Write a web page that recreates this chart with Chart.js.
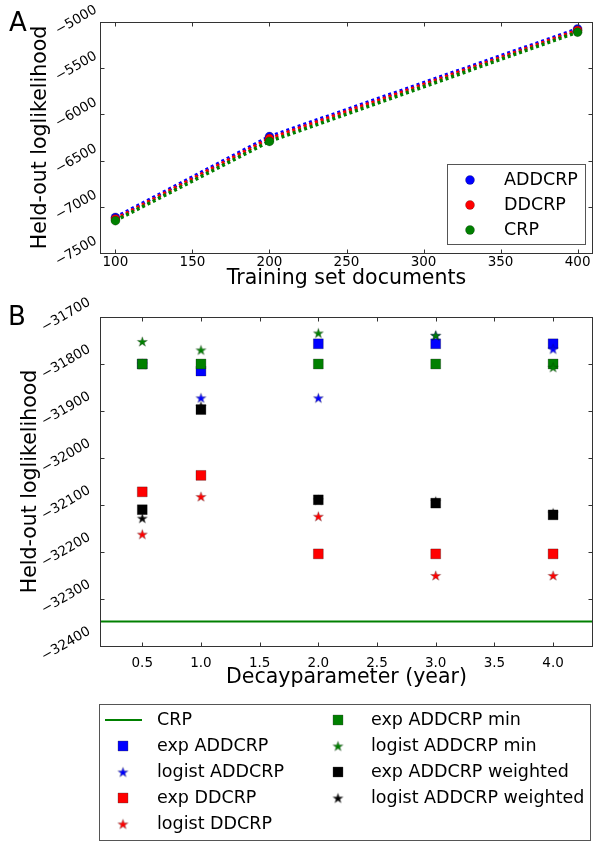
<!DOCTYPE html>
<html>
<head>
<meta charset="utf-8">
<script src="https://cdn.jsdelivr.net/npm/chart.js@4.4.0/dist/chart.umd.min.js"></script>
<style>
  html, body { margin: 0; padding: 0; background: #fff; }
  #wrap { position: relative; width: 594px; height: 841px; overflow: hidden; font-family: "DejaVu Sans", sans-serif; }
  .panel { position: absolute; left: 0; }
  .tag { position: absolute; font-size: 26px; line-height: 1; color: #000; }
</style>
</head>
<body>
<div id="wrap">
  <!-- canvases are 20px wider than the page; the spare strip on the right absorbs Chart.js label padding -->
  <div class="panel" style="top:0"><canvas id="chartA" width="614" height="290"></canvas></div>
  <div class="panel" style="top:290px"><canvas id="chartB" width="614" height="551"></canvas></div>
  <div class="tag" style="left:9px;top:9px">A</div>
  <div class="tag" style="left:8px;top:303px">B</div>
</div>
<script>
// ---- panel A data ----
const docCounts = [100, 200, 400];
const addcrpTop = [-7115, -6240, -5075];
const ddcrpTop = [-7132, -6262, -5092];
const crpTop = [-7150, -6292, -5110];
const topXTicks = [100, 150, 200, 250, 300, 350, 400];
const topYTicks = [-7500, -7000, -6500, -6000, -5500, -5000];

// ---- panel B data ----
const decay = [0.5, 1.0, 2.0, 3.0, 4.0];
const crpBaseline = -32348;
const expAddcrp = [-31800, -31815, -31757, -31757, -31757];
const logistAddcrp = [-31800, -31872, -31872, -31739, -31768];
const expDdcrp = [-32072, -32037, -32204, -32204, -32204];
const logistDdcrp = [-32162, -32082, -32124, -32250, -32250];
const expAddcrpMin = [-31800, -31800, -31800, -31800, -31800];
const logistAddcrpMin = [-31752, -31770, -31734, -31739, -31807];
const expAddcrpWeighted = [-32110, -31897, -32089, -32096, -32121];
const logistAddcrpWeighted = [-32128, -31890, -32089, -32092, -32117];
const bottomXTicks = [0.5, 1.0, 1.5, 2.0, 2.5, 3.0, 3.5, 4.0];
const bottomYTicks = [-32400, -32300, -32200, -32100, -32000, -31900, -31800, -31700];
const X_MIN = 0.14, X_MAX = 4.34;

const FONT = '"DejaVu Sans", sans-serif';
const tickFont = { family: FONT, size: 13.5 };
const titleFont = { family: FONT, size: 20.5, lineHeight: 1 };
const EDGE = 'rgba(0,0,0,0.45)';
const RIGHT_PAD = 21; // 20px spare strip + 1px

const minus = v => String(v).replace('-', '\u2212');
const pts = (xs, ys) => xs.map((x, i) => ({ x: x, y: ys[i] }));

const fixH = h => s => { s.height = h; };
const fixW = w => s => { s.width = w; s.paddingTop = 0; s.paddingBottom = 0; };

// filled five-point star, like matplotlib's '*'
function starImage(color, r) {
    const s = Math.ceil(r * 2 + 2);
    const c = document.createElement('canvas');
    c.width = s; c.height = s;
    const g = c.getContext('2d');
    g.translate(s / 2, s / 2 + r * 0.1);
    g.beginPath();
    for (let i = 0; i < 10; i++) {
        const rad = i % 2 ? r * 0.382 : r;
        const a = -Math.PI / 2 + i * Math.PI / 5;
        g.lineTo(Math.cos(a) * rad, Math.sin(a) * rad);
    }
    g.closePath();
    g.fillStyle = color;
    g.fill();
    g.lineWidth = 0.5;
    g.strokeStyle = EDGE;
    g.stroke();
    return c;
}

// axes box + inward tick marks on all four sides
const frame = {
    id: 'frame',
    afterDraw(chart) {
        const { ctx, chartArea: a } = chart;
        const L = Math.round(a.left) + 0.5, R = Math.round(a.right) - 0.5;
        const T = Math.round(a.top) + 0.5, B = Math.round(a.bottom) + 0.5;
        ctx.save();
        ctx.strokeStyle = '#333';
        ctx.lineWidth = 1;
        ctx.strokeRect(L, T, R - L, B - T);
        ctx.beginPath();
        const xs = chart.scales.x, ys = chart.scales.y;
        xs.ticks.forEach((t, i) => {
            const p = Math.round(xs.getPixelForTick(i)) + 0.5;
            ctx.moveTo(p, B); ctx.lineTo(p, B - 4);
            ctx.moveTo(p, T); ctx.lineTo(p, T + 4);
        });
        ys.ticks.forEach((t, i) => {
            const p = Math.round(ys.getPixelForTick(i)) + 0.5;
            ctx.moveTo(L, p); ctx.lineTo(L + 4, p);
            ctx.moveTo(R, p); ctx.lineTo(R - 4, p);
        });
        ctx.stroke();
        ctx.restore();
    }
};

// matplotlib-style boxed legend, filled column by column
const boxLegend = {
    id: 'boxLegend',
    afterDraw(chart, args, opts) {
        const ctx = chart.ctx;
        const [bx, by, bw, bh] = opts.box;
        ctx.save();
        ctx.fillStyle = '#fff';
        ctx.fillRect(bx, by, bw, bh);
        ctx.strokeStyle = '#555';
        ctx.lineWidth = 1;
        ctx.strokeRect(bx + 0.5, by + 0.5, bw, bh);
        ctx.font = opts.font;
        ctx.textBaseline = 'middle';
        ctx.textAlign = 'left';
        chart.data.datasets.forEach((ds, i) => {
            const col = Math.floor(i / opts.rows), row = i % opts.rows;
            const mx = opts.markX[col], tx = opts.textX[col];
            const y = opts.rowY0 + row * opts.rowStep;
            if (ds.legendLine) {
                ctx.strokeStyle = ds.borderColor;
                ctx.lineWidth = ds.borderWidth;
                ctx.beginPath();
                ctx.moveTo(mx - 18, y); ctx.lineTo(mx + 19, y);
                ctx.stroke();
            } else {
                ctx.fillStyle = ds.pointBackgroundColor || ds.backgroundColor;
                ctx.strokeStyle = ds.pointBorderColor || ds.borderColor;
                ctx.lineWidth = ds.pointBorderWidth !== undefined ? ds.pointBorderWidth : ds.borderWidth;
                Chart.helpers.drawPoint(ctx, {
                    radius: ds.pointRadius, pointStyle: ds.pointStyle, rotation: 0,
                    borderWidth: ctx.lineWidth
                }, mx, y);
            }
            ctx.fillStyle = '#000';
            ctx.fillText(ds.label, tx, y);
        });
        ctx.restore();
    }
};

// ---------------- Panel A ----------------
function topLine(label, color, ys, i) {
    return {
        label: label,
        data: pts(docCounts, ys),
        borderColor: color,
        backgroundColor: color,
        borderWidth: 3.5,
        borderDash: [3, 3],
        pointRadius: 4.5,
        pointStyle: 'circle',
        pointBackgroundColor: color,
        pointBorderColor: EDGE,
        pointBorderWidth: 0.5,
        order: -i
    };
}

new Chart(document.getElementById('chartA'), {
    type: 'line',
    data: {
        datasets: [
            topLine('ADDCRP', '#0000ff', addcrpTop, 0),
            topLine('DDCRP', '#ff0000', ddcrpTop, 1),
            topLine('CRP', '#008000', crpTop, 2)
        ]
    },
    options: {
        responsive: false,
        animation: false,
        events: [],
        layout: { padding: { top: 22, right: RIGHT_PAD, bottom: 0, left: 0 } },
        scales: {
            x: {
                type: 'linear', min: 90, max: 410,
                afterBuildTicks: s => { s.ticks = topXTicks.map(v => ({ value: v })); },
                afterFit: fixH(37),
                grid: { display: false, drawTicks: false },
                border: { display: false },
                ticks: { font: tickFont, color: '#000', padding: 1, maxRotation: 0, autoSkip: false },
                title: { display: true, text: 'Training set documents', font: titleFont, color: '#000', padding: { top: 0, bottom: 1 } }
            },
            y: {
                type: 'linear', min: -7500, max: -5000,
                afterBuildTicks: s => { s.ticks = topYTicks.map(v => ({ value: v })); },
                afterFit: fixW(100),
                grid: { display: false, drawTicks: false },
                border: { display: false },
                ticks: { font: tickFont, color: '#000', padding: 4, minRotation: 30, maxRotation: 30, labelOffset: -13, autoSkip: false, callback: v => minus(v) },
                title: { display: true, text: 'Held-out loglikelihood', font: titleFont, color: '#000', padding: { top: 30, bottom: 0 } }
            }
        },
        plugins: {
            legend: { display: false },
            tooltip: { enabled: false },
            boxLegend: {
                box: [447, 164, 138, 80], rows: 3, markX: [470], textX: [504],
                rowY0: 180, rowStep: 25, font: '17.5px ' + FONT
            }
        }
    },
    plugins: [frame, boxLegend]
});

// ---------------- Panel B ----------------
function marks(label, color, ys, kind, i) {
    const star = kind === 'star';
    return {
        label: label,
        data: pts(decay, ys),
        backgroundColor: color,
        borderColor: EDGE,
        borderWidth: 0.6,
        pointStyle: star ? starImage(color, 5.3) : 'rect',
        pointRadius: star ? 5 : 7,
        showLine: false,
        order: -i
    };
}

new Chart(document.getElementById('chartB'), {
    type: 'scatter',
    data: {
        datasets: [
            {
                label: 'CRP',
                data: [{ x: X_MIN, y: crpBaseline }, { x: X_MAX, y: crpBaseline }],
                showLine: true,
                legendLine: true,
                borderColor: '#008000',
                backgroundColor: '#008000',
                borderWidth: 2,
                pointRadius: 0,
                order: 0
            },
            marks('exp ADDCRP', '#0000ff', expAddcrp, 'rect', 1),
            marks('logist ADDCRP', '#0000ff', logistAddcrp, 'star', 2),
            marks('exp DDCRP', '#ff0000', expDdcrp, 'rect', 3),
            marks('logist DDCRP', '#ff0000', logistDdcrp, 'star', 4),
            marks('exp ADDCRP min', '#008000', expAddcrpMin, 'rect', 5),
            marks('logist ADDCRP min', '#008000', logistAddcrpMin, 'star', 6),
            marks('exp ADDCRP weighted', '#000000', expAddcrpWeighted, 'rect', 7),
            marks('logist ADDCRP weighted', '#000000', logistAddcrpWeighted, 'star', 8)
        ]
    },
    options: {
        responsive: false,
        animation: false,
        events: [],
        layout: { padding: { top: 27, right: RIGHT_PAD, bottom: 151, left: 0 } },
        scales: {
            x: {
                type: 'linear', min: X_MIN, max: X_MAX,
                afterBuildTicks: s => { s.ticks = bottomXTicks.map(v => ({ value: v })); },
                afterFit: fixH(44),
                grid: { display: false, drawTicks: false },
                border: { display: false },
                ticks: { font: tickFont, color: '#000', padding: 9, maxRotation: 0, autoSkip: false, callback: v => v.toFixed(1) },
                title: { display: true, text: 'Decayparameter (year)', font: titleFont, color: '#000', padding: { top: 0, bottom: 2 } }
            },
            y: {
                type: 'linear', min: -32400, max: -31700,
                afterBuildTicks: s => { s.ticks = bottomYTicks.map(v => ({ value: v })); },
                afterFit: fixW(100),
                grid: { display: false, drawTicks: false },
                border: { display: false },
                ticks: { font: tickFont, color: '#000', padding: 10.5, minRotation: 30, maxRotation: 30, labelOffset: -15.5, autoSkip: false, callback: v => minus(v) },
                title: { display: true, text: 'Held-out loglikelihood', font: titleFont, color: '#000', padding: { top: 20, bottom: 0 } }
            }
        },
        plugins: {
            legend: { display: false },
            tooltip: { enabled: false },
            boxLegend: {
                box: [99, 414, 491, 136], rows: 5, markX: [123, 338], textX: [157, 371],
                rowY0: 430, rowStep: 26, font: '17.5px ' + FONT
            }
        }
    },
    plugins: [frame, boxLegend]
});
</script>
</body>
</html>
